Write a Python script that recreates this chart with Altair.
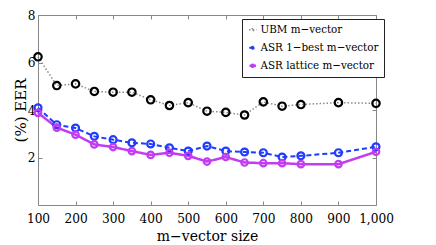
import altair as alt
import pandas as pd

FONT_A = "DejaVu Serif Condensed, DejaVu Serif"
FONT_B = "DejaVu Serif Condensed"
FONT_C = "DejaVu Serif"

sizes = [100, 150, 200, 250, 300, 350, 400, 450, 500, 550, 600, 650, 700, 750, 800, 900, 1000]
ubm = [6.24, 5.03, 5.10, 4.78, 4.75, 4.75, 4.43, 4.19, 4.31, 3.95, 3.90, 3.79, 4.34, 4.16, 4.23, 4.31, 4.28]
asr_1best = [4.09, 3.38, 3.24, 2.89, 2.75, 2.62, 2.57, 2.41, 2.27, 2.48, 2.27, 2.23, 2.20, 2.02, 2.07, 2.20, 2.45]
asr_lattice = [3.88, 3.26, 2.96, 2.55, 2.44, 2.27, 2.11, 2.20, 2.07, 1.83, 2.02, 1.79, 1.76, 1.76, 1.72, 1.72, 2.24]
names = ["UBM m−vector", "ASR 1−best m−vector", "ASR lattice m−vector"]
x_ticks = [100, 200, 300, 400, 500, 600, 700, 800, 900, 1000]
y_ticks = [2, 4, 6, 8]

line_colors = ["#8a8a8a", "#1f3cff", "#c23cf2"]
point_colors = ["#000000", "#1f3cff", "#c23cf2"]
dashes = [[1.5, 2], [5, 3], [1, 0]]
line_widths = [1.5, 2.5, 2.5]
point_sizes = [55, 42, 42]

rows = []
for name, vals in zip(names, [ubm, asr_1best, asr_lattice]):
    for s, v in zip(sizes, vals):
        rows.append({"size": s, "eer": v, "series": name})
df = pd.DataFrame(rows)

W, H = 338, 190
xscale = alt.Scale(domain=[100, 1000], nice=False, zero=False)
yscale = alt.Scale(domain=[0, 8], nice=False)

SYM = "M-1,0L1,0M0.3,0A0.3,0.3,0,1,1,-0.3,0A0.3,0.3,0,1,1,0.3,0Z"
leg = dict(title=None, orient="none", legendX=204, legendY=4, strokeColor="#222222",
           fillColor="white", padding=5, labelFont=FONT_B, labelFontSize=11.5, labelColor="black",
           symbolType=SYM, symbolSize=400, symbolStrokeWidth=2, symbolFillColor="transparent",
           rowPadding=5, labelOffset=2, labelLimit=300)

tick_axis = dict(ticks=True, tickSize=4, tickColor="#888888", tickWidth=1, labels=False,
                 domain=False, grid=False, title=None)

base = alt.Chart(df)

lines = base.mark_line().encode(
    x=alt.X("size:Q", scale=xscale, axis=alt.Axis(
        values=x_ticks, format=",d", ticks=False, domain=False, grid=False, labelPadding=6,
        labelOverlap=False, labelFlush=False,
        labelFont=FONT_A, labelFontSize=13.5, labelColor="black", title="m−vector size",
        titleFont=FONT_C, titleFontSize=14, titleFontWeight="normal", titleColor="black",
        titleY=35, titleBaseline="alphabetic")),
    y=alt.Y("eer:Q", scale=yscale, axis=alt.Axis(
        values=y_ticks, format="d", ticks=False, domain=False, grid=False, labelPadding=3,
        labelOverlap=False, labelFlush=False,
        labelFont=FONT_A, labelFontSize=13.5, labelColor="black", title="(%) EER",
        titleFont=FONT_C, titleFontSize=15, titleFontWeight="normal", titleColor="black",
        titleX=-13, titleBaseline="alphabetic")),
    color=alt.Color("series:N", scale=alt.Scale(domain=names, range=line_colors), legend=alt.Legend(**leg)),
    strokeDash=alt.StrokeDash("series:N", scale=alt.Scale(domain=names, range=dashes), legend=alt.Legend(**leg)),
    strokeWidth=alt.StrokeWidth("series:N", scale=alt.Scale(domain=names, range=line_widths), legend=None),
)

points = base.mark_point(filled=False, shape="circle", opacity=1, strokeWidth=2.2).encode(
    x=alt.X("size:Q", scale=xscale, axis=alt.Axis(orient="top", offset=-H, values=x_ticks, **tick_axis)),
    y=alt.Y("eer:Q", scale=yscale, axis=alt.Axis(orient="right", offset=-W, values=y_ticks, **tick_axis)),
    stroke=alt.Stroke("series:N", scale=alt.Scale(domain=names, range=point_colors), legend=None),
    size=alt.Size("series:N", scale=alt.Scale(domain=names, range=point_sizes), legend=None),
)

ghost = base.mark_point(opacity=0).encode(
    x=alt.X("size:Q", scale=xscale, axis=alt.Axis(orient="bottom", offset=-H, values=x_ticks, **tick_axis)),
    y=alt.Y("eer:Q", scale=yscale, axis=alt.Axis(orient="left", offset=-W, values=y_ticks, **tick_axis)),
)

chart = alt.layer(lines, points, ghost).resolve_axis(x="independent", y="independent").properties(
    width=W, height=H,
    autosize=alt.AutoSizeParams(type="none"),
    padding={"left": 30, "top": 7, "right": 40, "bottom": 40},
    background="white",
).configure_view(stroke="#888888", strokeWidth=1)

chart.save("out.html", embed_options={"renderer": "svg", "actions": False})
